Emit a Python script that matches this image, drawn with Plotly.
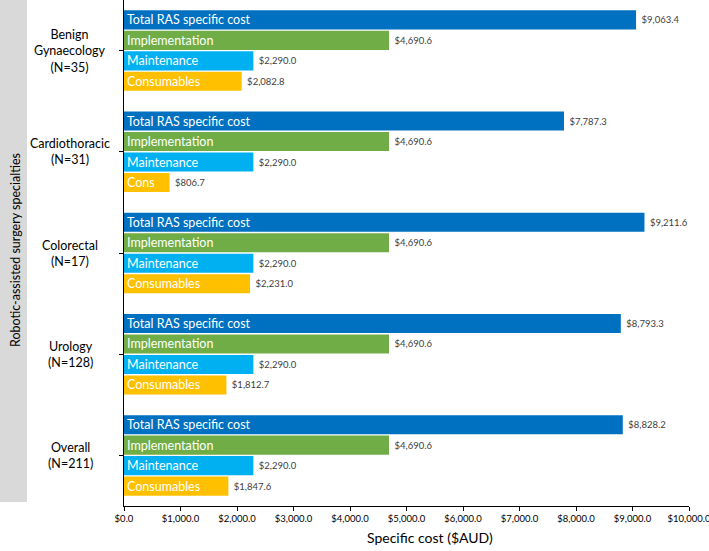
import plotly.graph_objects as go

categories = ["Benign<br>Gynaecology<br>(N=35)", "Cardiothoracic<br>(N=31)",
              "Colorectal<br>(N=17)", "Urology<br>(N=128)", "Overall<br>(N=211)"]
series_names = ["Total RAS specific cost", "Implementation", "Maintenance", "Consumables"]
total = [9063.4, 7787.3, 9211.6, 8793.3, 8828.2]
implementation = [4690.6, 4690.6, 4690.6, 4690.6, 4690.6]
maintenance = [2290.0, 2290.0, 2290.0, 2290.0, 2290.0]
consumables = [2082.8, 806.7, 2231.0, 1812.7, 1847.6]
inside_labels = {
    "Total RAS specific cost": ["Total RAS specific cost"] * 5,
    "Implementation": ["Implementation"] * 5,
    "Maintenance": ["Maintenance"] * 5,
    "Consumables": ["Consumables", "Cons", "Consumables", "Consumables", "Consumables"],
}
x_ticks = list(range(0, 10001, 1000))
x_tick_text = [f"${v:,.1f}" for v in x_ticks]

values = [total, implementation, maintenance, consumables]
colors = ["#0070C0", "#70AD47", "#00B0F0", "#FFC000"]

L, R, T, B = 124, 20, 0, 45
W, H = 709, 551
PW, PH = W - L - R, H - T - B

fig = go.Figure()
for i, (name, vals, col) in enumerate(zip(series_names, values, colors)):
    fig.add_trace(go.Bar(
        y=categories, x=vals, orientation="h", name=name,
        offsetgroup=str(i), marker=dict(color=col, line=dict(width=0)),
        text=[f"\u00a0${v:,.1f}" for v in vals], textposition="outside",
        textfont=dict(family="Lato", size=9.5, color="#404040"),
        cliponaxis=False, constraintext="none", hoverinfo="skip"))
    fig.add_trace(go.Bar(
        y=categories, x=vals, orientation="h", name=name + " label",
        offsetgroup=str(i), marker=dict(color="rgba(0,0,0,0)", line=dict(width=0)),
        text=inside_labels[name], textposition="inside", insidetextanchor="start",
        textfont=dict(family="Lato", size=12.5, color="white"),
        constraintext="none", hoverinfo="skip"))

fig.update_layout(
    width=W, height=H, barmode="group", bargap=0.19, bargroupgap=0.07,
    showlegend=False, plot_bgcolor="white", paper_bgcolor="white",
    margin=dict(l=L, r=R, t=T, b=B, autoexpand=False),
    font=dict(family="Lato", color="black"),
)
fig.update_xaxes(range=[0, 10000], tickmode="array", tickvals=x_ticks, ticktext=x_tick_text,
                 ticklabeloverflow="allow",
                 showgrid=False, zeroline=False, showline=True, linecolor="black",
                 linewidth=1, ticks="outside", ticklen=4, tickcolor="black",
                 tickfont=dict(size=9.5, color="black"))
fig.update_yaxes(autorange="reversed", showgrid=False, showline=True, linecolor="black",
                 linewidth=1, ticks="outside", ticklen=4, tickcolor="black",
                 showticklabels=False)

for c in categories:
    fig.add_annotation(text=c, xref="paper", yref="y", x=(70 - L) / PW, y=c,
                       xanchor="center", yanchor="middle", showarrow=False,
                       font=dict(size=12.5, color="black"))

fig.add_shape(type="rect", xref="paper", yref="paper",
              x0=-L / PW, x1=(27 - L) / PW, y0=(PH - 502) / PH, y1=1.0,
              fillcolor="#D9D9D9", line=dict(width=0), layer="below")
fig.add_annotation(text="Robotic-assisted surgery specialties", xref="paper", yref="paper",
                   x=(15 - L) / PW, y=(PH - 250) / PH, textangle=-90, showarrow=False,
                   xanchor="center", yanchor="middle",
                   font=dict(size=12.5, color="black"))
fig.add_annotation(text="Specific cost ($AUD)", xref="paper", yref="paper",
                   x=(430 - L) / PW, y=-(537 - PH) / PH, showarrow=False,
                   xanchor="center", yanchor="middle",
                   font=dict(size=14, color="black"))

fig.write_html("out.html", config={"displayModeBar": False},
               post_script="document.body.style.margin='0';")
